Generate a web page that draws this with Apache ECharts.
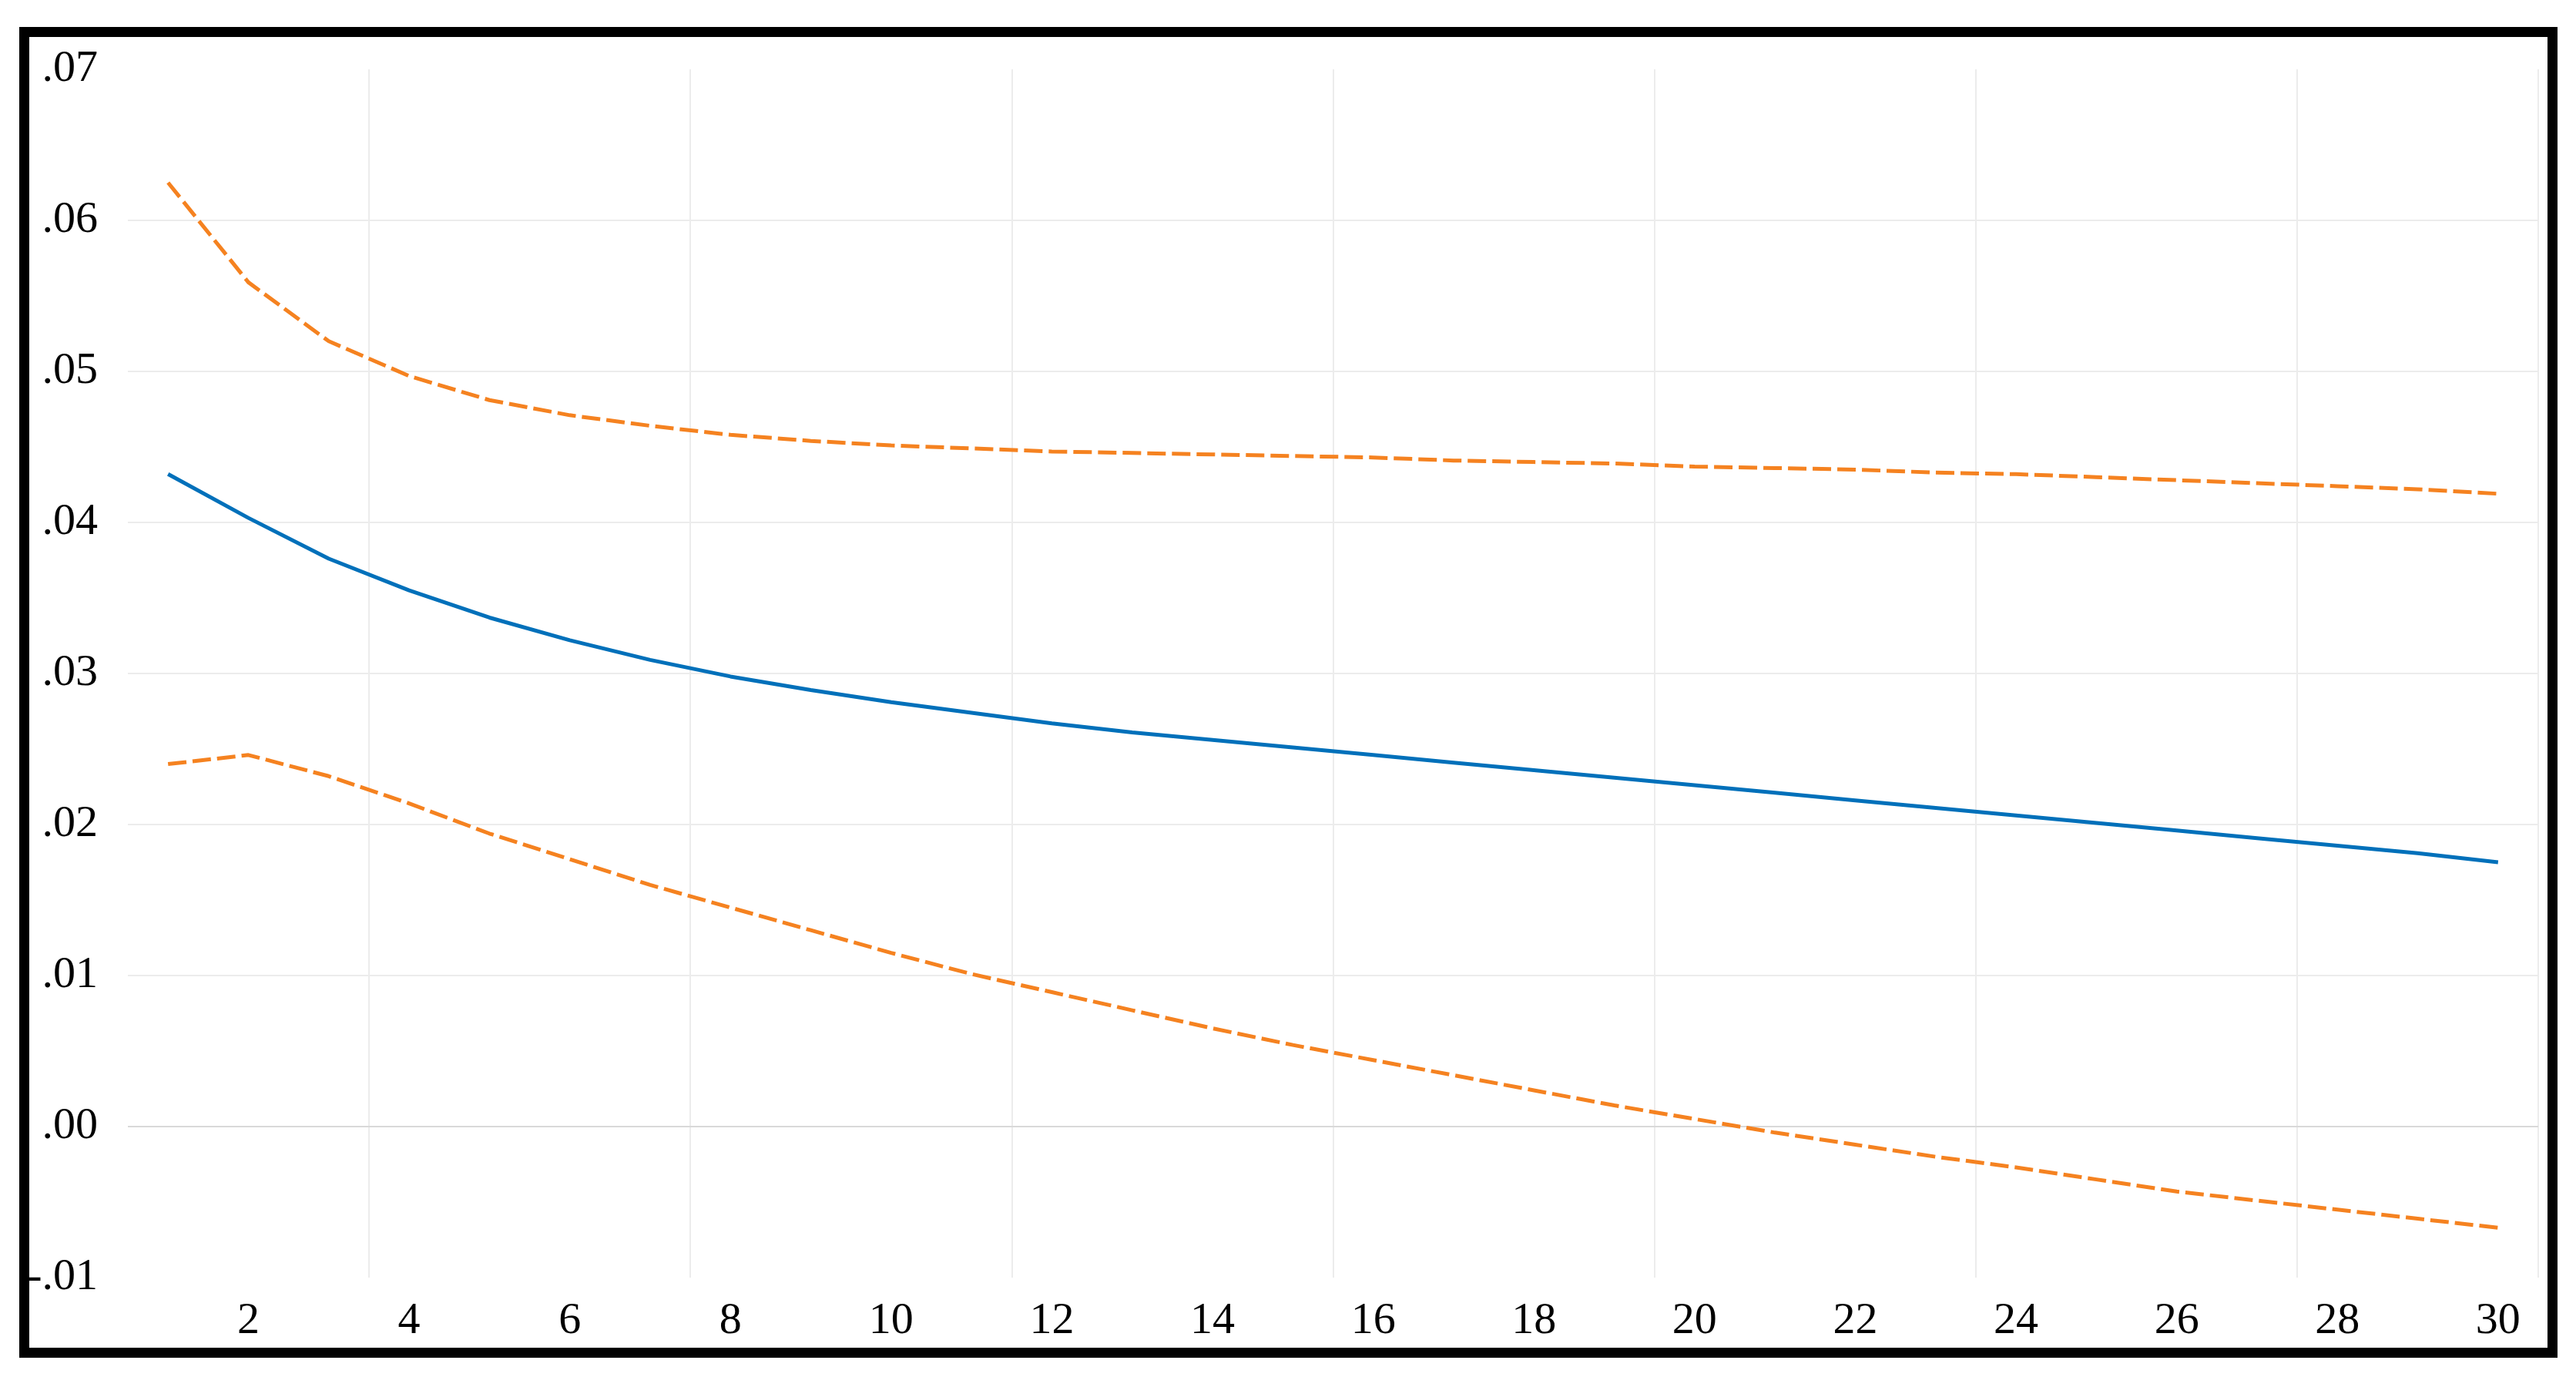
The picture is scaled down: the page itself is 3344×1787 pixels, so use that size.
<!DOCTYPE html>
<html>
<head>
<meta charset="utf-8">
<script src="https://cdn.jsdelivr.net/npm/echarts@6/dist/echarts.min.js"></script>
<style>
html,body{margin:0;padding:0;background:#fff;}
#chart{width:3344px;height:1787px;}
</style>
</head>
<body>
<div id="chart"></div>
<script>
const horizons = Array.from({length: 30}, (_, i) => String(i + 1));

const response = [
  0.0432, 0.0403, 0.0376, 0.0355, 0.0337, 0.0322, 0.0309, 0.0298, 0.0289, 0.0281,
  0.0274, 0.0267, 0.0261, 0.0256, 0.0251, 0.0246, 0.0241, 0.0236, 0.0231, 0.0226,
  0.0221, 0.0216, 0.0211, 0.0206, 0.0201, 0.0196, 0.0191, 0.0186, 0.0181, 0.0175
];

const upperBand = [
  0.0625, 0.0559, 0.0520, 0.0497, 0.0481, 0.0471, 0.0464, 0.0458, 0.0454, 0.0451,
  0.0449, 0.0447, 0.0446, 0.0445, 0.0444, 0.0443, 0.0441, 0.0440, 0.0439, 0.0437,
  0.0436, 0.0435, 0.0433, 0.0432, 0.0430, 0.0428, 0.0426, 0.0424, 0.0422, 0.0419
];

const lowerBand = [
  0.0240, 0.0246, 0.0232, 0.0214, 0.0194, 0.0177, 0.0160, 0.0145, 0.0130, 0.0115,
  0.0101, 0.0089, 0.0077, 0.0065, 0.0054, 0.0044, 0.0034, 0.0024, 0.0014, 0.0005,
  -0.0004, -0.0012, -0.0020, -0.0027, -0.0035, -0.0043, -0.0049, -0.0055, -0.0061, -0.0067
];

const blue = '#0070BA';
const orange = '#F58220';
const font = "'Liberation Serif', 'Times New Roman', serif";

const chart = echarts.init(document.getElementById('chart'), null, {renderer: 'canvas'});
chart.setOption({
  backgroundColor: '#ffffff',
  animation: false,
  grid: {left: 166, right: 49, top: 90, bottom: 129, containLabel: false},
  graphic: [{
    type: 'rect',
    z: 100,
    silent: true,
    shape: {x: 31.5, y: 41.5, width: 3282, height: 1714},
    style: {fill: 'none', stroke: '#000', lineWidth: 13}
  }],
  xAxis: {
    type: 'category',
    data: horizons,
    boundaryGap: true,
    axisLine: {show: false},
    axisTick: {show: false},
    axisLabel: {
      interval: (i) => i % 2 === 1,
      margin: 28,
      color: '#000',
      fontFamily: font,
      fontSize: 58
    },
    splitLine: {
      show: true,
      interval: (i) => i % 4 === 3,
      lineStyle: {color: '#ececec', width: 2}
    }
  },
  yAxis: {
    type: 'value',
    min: -0.01,
    max: 0.07,
    interval: 0.01,
    axisLine: {show: false},
    axisTick: {show: false},
    axisLabel: {
      margin: 39,
      color: '#000',
      fontFamily: font,
      fontSize: 58,
      verticalAlign: 'middle',
      padding: [0, 0, 26, 0],
      formatter: (v) => {
        const s = Number(v).toFixed(2);
        return s.replace(/^(-?)0\./, '$1.');
      }
    },
    splitLine: {
      show: true,
      showMinLine: false,
      showMaxLine: false,
      lineStyle: {color: '#ececec', width: 2}
    }
  },
  series: [
    {
      name: 'lower',
      type: 'line',
      data: lowerBand,
      symbol: 'none',
      smooth: false,
      lineStyle: {color: orange, width: 5, type: [24, 8]},
      z: 3,
      markLine: {
        silent: true,
        symbol: 'none',
        label: {show: false},
        lineStyle: {color: '#d9d9d9', width: 2, type: 'solid'},
        data: [{yAxis: 0}],
        z: 1
      }
    },
    {
      name: 'upper',
      type: 'line',
      data: upperBand,
      symbol: 'none',
      smooth: false,
      lineStyle: {color: orange, width: 5, type: [24, 8]},
      z: 3
    },
    {
      name: 'response',
      type: 'line',
      data: response,
      symbol: 'none',
      smooth: false,
      lineStyle: {color: blue, width: 5},
      z: 4
    }
  ]
});
</script>
</body>
</html>
